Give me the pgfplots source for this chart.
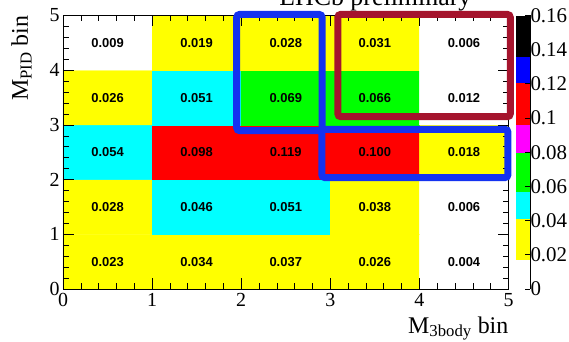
\documentclass[border=0pt]{standalone}
\usepackage{pgfplots}
\pgfplotsset{compat=1.18}
\usepackage{pgfplotstable}
\usepackage{fontspec}
\setmainfont{Liberation Serif}
\newfontfamily\cellfont{Liberation Sans}
\definecolor{rootblue}{RGB}{20,50,240}
\definecolor{rootdarkred}{RGB}{165,20,45}
\pgfplotsset{/pgf/number format/assume math mode=true}

\pgfplotstableread{
x y v
0.5 0.5 0.023
1.5 0.5 0.034
2.5 0.5 0.037
3.5 0.5 0.026
4.5 0.5 0.004
0.5 1.5 0.028
1.5 1.5 0.046
2.5 1.5 0.051
3.5 1.5 0.038
4.5 1.5 0.006
0.5 2.5 0.054
1.5 2.5 0.098
2.5 2.5 0.119
3.5 2.5 0.100
4.5 2.5 0.018
0.5 3.5 0.026
1.5 3.5 0.051
2.5 3.5 0.069
3.5 3.5 0.066
4.5 3.5 0.012
0.5 4.5 0.009
1.5 4.5 0.019
2.5 4.5 0.028
3.5 4.5 0.031
4.5 4.5 0.006
}\datatable

\begin{document}
\begin{tikzpicture}
\begin{axis}[
  x=89.1bp, y=54.7bp,
  xmin=0, xmax=5, ymin=0, ymax=5,
  xtick={0,1,2,3,4,5}, ytick={0,1,2,3,4,5},
  minor tick num=4,
  tick align=inside,
  tick pos=both,
  major tick length=11bp, minor tick length=6bp,
  tick style={black, line width=0.6bp},
  axis line style={black, line width=0.8bp},
  ticklabel style={font=\fontsize{20}{20}\selectfont},
  xticklabel style={yshift=-1bp},
  xlabel={M\textsubscript{3body} bin},
  xlabel style={at={(axis description cs:1,0)}, anchor=base east, yshift=-44bp, inner sep=0pt, font=\fontsize{24}{24}\selectfont},
  ylabel={M\textsubscript{PID} bin},
  ylabel style={at={(axis description cs:-0.0786,1)}, rotate=0, anchor=base east, inner sep=0pt, font=\fontsize{24}{24}\selectfont},
  colormap={rootpal}{color(0cm)=(white) color(1.73cm)=(yellow) color(4.1cm)=(cyan) color(5.68cm)=(green) color(7.99cm)=(magenta) color(9.59cm)=(red) color(12.07cm)=(blue) color(13.58cm)=(black) color(16cm)=(black)},
  colormap access=piecewise constant,
  point meta min=0, point meta max=0.16,
  colorbar,
  colorbar style={
    at={(parent axis.north east)}, anchor=north west, xshift=-1bp,
    width=14bp,
    axis x line=none, axis y line*=right,
    ytick={0,0.02,0.04,0.06,0.08,0.1,0.12,0.14,0.16},
    scaled y ticks=false,
    yticklabel style={font=\fontsize{21}{21}\selectfont, /pgf/number format/fixed, /pgf/number format/precision=2, xshift=-3bp},
    tick align=inside, major tick length=5bp,
    tick style={black, line width=0.8bp},
    axis line style={black, line width=0.8bp},
  },
  clip=false,
  axis on top,
]
\addplot[matrix plot*, mesh/cols=5, point meta=explicit, draw=none] table[x=x, y=y, meta=v]{\datatable};
\addplot[only marks, mark=none, point meta=explicit,
  nodes near coords={\pgfmathprintnumber[fixed, fixed zerofill, precision=3]{\pgfplotspointmeta}},
  nodes near coords style={anchor=center, text=black, font=\cellfont\bfseries\fontsize{13}{13}\selectfont}]
  table[x=x, y=y, meta=v]{\datatable};
\node[anchor=base, font=\fontsize{26}{26}\selectfont] at (axis description cs:0.701,1.038) {LHCb preliminary};
\coordinate (va) at (axis cs:1.95,5.02);
\coordinate (vb) at (axis cs:2.907,2.894);
\coordinate (ha) at (axis cs:2.904,2.92);
\coordinate (hb) at (axis cs:4.994,2.037);
\coordinate (ra) at (axis cs:3.084,5.02);
\coordinate (rb) at (axis cs:5.02,3.15);
\end{axis}
\draw[rootblue, line width=7bp, rounded corners=3bp] (va) rectangle (vb);
\draw[rootblue, line width=7bp, rounded corners=3bp] (ha) rectangle (hb);
\draw[rootdarkred, line width=7bp, rounded corners=3bp] (ra) rectangle (rb);
\pgfresetboundingbox
\path[use as bounding box] (-63bp,-53bp) rectangle (506bp,289bp);
\end{tikzpicture}
\end{document}
